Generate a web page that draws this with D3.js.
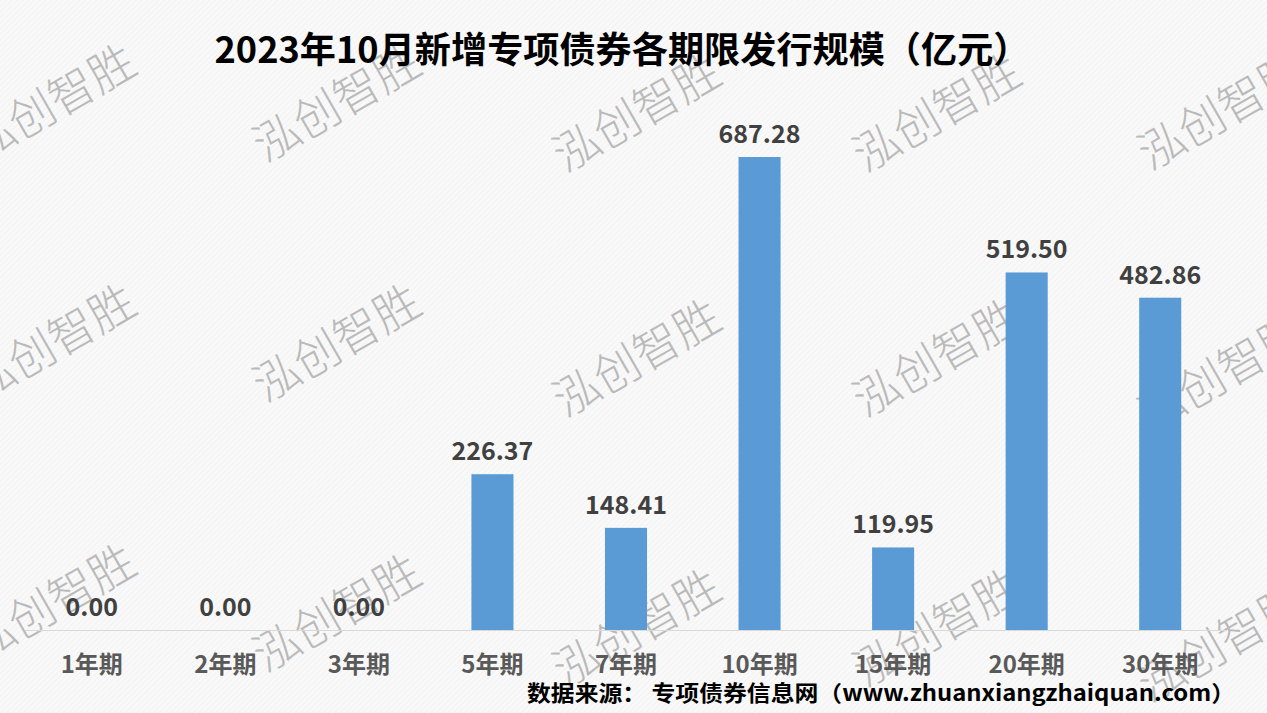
<!DOCTYPE html>
<html><head><meta charset="utf-8">
<script src="https://cdn.jsdelivr.net/npm/d3@7"></script>
<style>html,body{margin:0;padding:0;background:#f7f7f7;}svg{display:block;}</style>
</head><body>
<script>
const categories = ["1年期","2年期","3年期","5年期","7年期","10年期","15年期","20年期","30年期"];
const values = [0.00,0.00,0.00,226.37,148.41,687.28,119.95,519.50,482.86];
const title = "2023年10月新增专项债券各期限发行规模（亿元）";
const source = "数据来源：  专项债券信息网（www.zhuanxiangzhaiquan.com）";
const watermark = "泓创智胜";

const W = 1267, H = 713;
const font = "'Noto Sans CJK SC','Noto Sans',sans-serif";
const svg = d3.select("body").append("svg").attr("width", W).attr("height", H);

const defs = svg.append("defs");
const pat = defs.append("pattern").attr("id","hatch").attr("width",4).attr("height",4)
  .attr("patternUnits","userSpaceOnUse").attr("patternTransform","rotate(45)");
pat.append("rect").attr("width",4).attr("height",4).attr("fill","#f9f9f9");
pat.append("line").attr("x1",0).attr("y1",0).attr("x2",0).attr("y2",4).attr("stroke","#ececec").attr("stroke-width",1);
svg.append("rect").attr("width",W).attr("height",H).attr("fill","url(#hatch)");

const x = d3.scaleBand().domain(categories).range([25, 1227]).paddingInner(0.685).paddingOuter(0.3425);
const y = d3.scaleLinear().domain([0, 687.28]).range([630, 157]);

// watermark tiles (behind chart marks)
const wm = svg.append("g").attr("pointer-events","none");
const rowsY = [[100,100,110,110,108],[340,340,355,355,370],[600,610,625,625,640]];
const colsX = [50,335,635,935,1220];
rowsY.forEach(r=>r.forEach((yy,j)=>{
  wm.append("text").attr("transform",`translate(${colsX[j]},${yy}) rotate(-30)`)
    .attr("text-anchor","middle").attr("dominant-baseline","central")
    .attr("font-family",font).attr("font-weight",300).attr("font-size",46).attr("fill","#a6a6a6").attr("fill-opacity",0.75)
    .text(watermark);
}));

// baseline
svg.append("line").attr("x1",25).attr("x2",1227).attr("y1",y(0)+0.5).attr("y2",y(0)+0.5)
  .attr("stroke","#d9d9d9").attr("stroke-width",1);

svg.append("g").selectAll("rect").data(values).join("rect")
  .attr("x",(d,i)=>x(categories[i])).attr("width",x.bandwidth())
  .attr("y",d=>y(d)).attr("height",d=>y(0)-y(d)).attr("fill","#5b9bd5");

svg.append("g").selectAll("text").data(values).join("text")
  .attr("x",(d,i)=>x(categories[i])+x.bandwidth()/2).attr("y",d=>y(d)-14)
  .attr("text-anchor","middle").attr("font-family",font).attr("font-weight","bold")
  .attr("font-size",25).attr("fill","#404040").text(d=>d.toFixed(2));

const xAxis = svg.append("g").attr("transform",`translate(0,${y(0)})`)
  .call(d3.axisBottom(x).tickSize(0).tickPadding(0));
xAxis.select(".domain").remove();
xAxis.selectAll("text").attr("font-family",font).attr("font-weight","bold").attr("font-size",24)
  .attr("fill","#595959").attr("dy",null).attr("y",43);

svg.append("text").attr("x",622).attr("y",63).attr("text-anchor","middle")
  .attr("font-family",font).attr("font-weight","bold").attr("font-size",36).attr("fill","#000")
  .attr("textLength",815).attr("lengthAdjust","spacingAndGlyphs")
  .text(title);

svg.append("text").attr("x",527).attr("y",701).attr("text-anchor","start")
  .attr("font-family",font).attr("font-weight","bold").attr("font-size",22).attr("fill","#000")
  .attr("textLength",708).attr("lengthAdjust","spacingAndGlyphs")
  .text(source);
</script>
</body></html>
